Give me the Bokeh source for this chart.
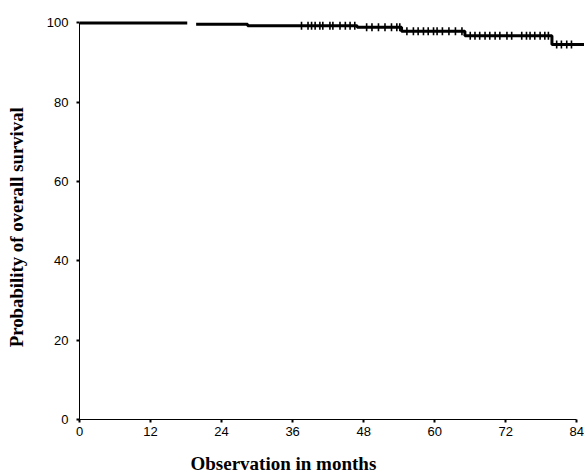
import math
from bokeh.plotting import figure
from bokeh.models import Range1d, FixedTicker, Title
from bokeh.embed import file_html
from bokeh.resources import INLINE

# Kaplan-Meier overall survival
step_times = [0.0, 19.7, 28.4, 46.9, 54.4, 65.1, 79.8]
survival = [100.0, 99.7, 99.3, 98.9, 97.9, 96.8, 94.6]
gap_start = 18.2          # visible gap in the printed curve
last_followup = 85.3

censor_times = [37.5, 38.6, 39.2, 39.8, 40.6, 41.1, 42.3, 42.8, 44.0, 44.9, 45.7, 46.5,
                48.5, 49.4, 50.5, 51.6, 52.7, 53.6, 54.1,
                55.3, 56.4, 57.2, 58.1, 58.9, 59.8, 60.4, 61.3, 62.4, 63.5, 64.6,
                66.0, 66.8, 67.6, 68.5, 69.3, 70.2, 71.0, 72.2, 73.0, 74.7, 75.5,
                76.1, 76.9, 77.8, 78.6, 79.2,
                80.6, 81.4, 82.3, 83.1]

x_ticks = [0, 12, 24, 36, 48, 60, 72, 84]
y_ticks = [0, 20, 40, 60, 80, 100]
x_title = "Observation in months"
y_title = "Probability of overall survival"


def surv_at(t):
    v = survival[0]
    for st, s in zip(step_times, survival):
        if t >= st:
            v = s
    return v


# build step vertices
xs, ys = [], []
for i, (t, s) in enumerate(zip(step_times, survival)):
    t_end = step_times[i + 1] if i + 1 < len(step_times) else last_followup
    if i == 0:
        xs += [t, gap_start, float("nan")]
        ys += [s, s, float("nan")]
        continue
    xs += [t, t_end]
    ys += [s, s]
    if i + 1 < len(step_times):
        xs.append(t_end)
        ys.append(survival[i + 1])

cy = [surv_at(t) for t in censor_times]

p = figure(width=584, height=476, output_backend="svg", toolbar_location=None,
           x_range=Range1d(0, 85.3), y_range=Range1d(0, 102.9),
           min_border_left=79, min_border_right=0, min_border_top=11, min_border_bottom=57)
p.outline_line_color = None
p.xgrid.visible = False
p.ygrid.visible = False
p.background_fill_color = "white"

p.line(xs, ys, line_color="black", line_width=3)
p.scatter(censor_times, cy, marker="dash", angle=math.pi / 2, size=8,
          line_color="black", line_width=1.6)

for ax, ticks, bounds in ((p.xaxis[0], x_ticks, (0, 84)), (p.yaxis[0], y_ticks, (0, 100))):
    ax.ticker = FixedTicker(ticks=ticks)
    ax.bounds = bounds
    ax.axis_line_color = "black"
    ax.axis_line_width = 1
    ax.major_tick_in = 0
    ax.major_tick_out = 3
    ax.major_tick_line_width = 2
    ax.major_tick_line_color = "black"
    ax.minor_tick_line_color = None
    ax.major_label_text_font = "Liberation Sans"
    ax.major_label_text_font_size = "13px"
    ax.major_label_text_color = "black"

p.xaxis.major_label_standoff = 4
p.yaxis.major_label_standoff = 8

# trailing no-break spaces nudge the centred label slightly downwards, as printed
p.yaxis.axis_label = y_title + "\u00a0" * 5
p.yaxis.axis_label_text_font = "Liberation Serif"
p.yaxis.axis_label_text_font_style = "bold"
p.yaxis.axis_label_text_font_size = "18.8px"
p.yaxis.axis_label_text_color = "black"
p.yaxis.axis_label_standoff = 17

# small spacer between the tick labels and the x title
p.add_layout(Title(text=" ", text_font_size="1px", standoff=9), "below")
xt = Title(text=x_title, align="left", offset=111, vertical_align="bottom",
           text_font="Liberation Serif", text_font_style="bold",
           text_font_size="19px", text_color="black", standoff=0)
p.add_layout(xt, "below")

open("out.html", "w").write(file_html(p, INLINE))
